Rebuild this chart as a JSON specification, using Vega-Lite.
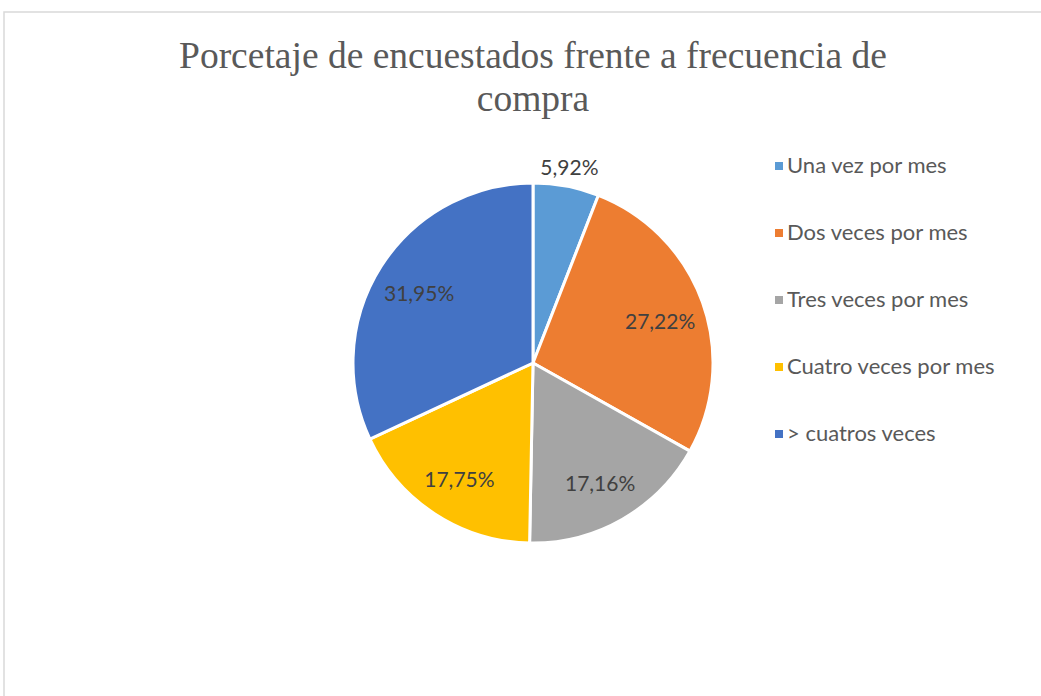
{
  "$schema": "https://vega.github.io/schema/vega-lite/v6.json",
  "width": 1058,
  "height": 702,
  "autosize": {"type": "none"},
  "padding": {"left": 4, "top": 12, "right": 0, "bottom": 0},
  "background": "white",
  "view": {"stroke": "#d9d9d9", "strokeWidth": 1.5},
  "title": {
    "text": ["Porcetaje de encuestados frente a frecuencia de", "compra"],
    "frame": "group",
    "anchor": "middle",
    "offset": -136,
    "baseline": "alphabetic",
    "font": "Liberation Serif",
    "fontSize": 37.5,
    "fontWeight": "normal",
    "color": "#595959",
    "lineHeight": 43
  },
  "data": {
    "values": [
      {"frecuencia": "Una vez por mes", "valor": 5.92, "etiqueta": "5,92%", "orden": 1},
      {"frecuencia": "Dos veces por mes", "valor": 27.22, "etiqueta": "27,22%", "orden": 2},
      {"frecuencia": "Tres veces por mes", "valor": 17.16, "etiqueta": "17,16%", "orden": 3},
      {"frecuencia": "Cuatro veces por mes", "valor": 17.75, "etiqueta": "17,75%", "orden": 4},
      {"frecuencia": "> cuatros veces", "valor": 31.95, "etiqueta": "31,95%", "orden": 5}
    ]
  },
  "encoding": {
    "theta": {"field": "valor", "type": "quantitative", "stack": true},
    "order": {"field": "orden", "type": "quantitative"}
  },
  "layer": [
    {
      "mark": {"type": "arc", "outerRadius": 180, "stroke": "white", "strokeWidth": 3},
      "encoding": {
        "color": {
          "field": "frecuencia",
          "type": "nominal",
          "sort": ["Una vez por mes", "Dos veces por mes", "Tres veces por mes", "Cuatro veces por mes", "> cuatros veces"],
          "scale": {
            "domain": ["Una vez por mes", "Dos veces por mes", "Tres veces por mes", "Cuatro veces por mes", "> cuatros veces"],
            "range": ["#5b9bd5", "#ed7d31", "#a5a5a5", "#ffc000", "#4472c4"]
          },
          "legend": {
            "title": null,
            "orient": "none",
            "legendX": 764,
            "legendY": 143,
            "padding": 0,
            "symbolType": "square",
            "symbolSize": 64,
            "symbolStrokeWidth": 0,
            "labelFont": "Lato",
            "labelFontSize": 22,
            "labelColor": "#595959",
            "labelOffset": -3,
            "rowPadding": 45,
            "labelLimit": 300
          }
        }
      }
    },
    {
      "mark": {"type": "text", "radius": 135, "dy": 5, "font": "Lato", "fontSize": 21, "color": "#404040"},
      "encoding": {
        "text": {"field": "etiqueta"},
        "opacity": {"condition": {"test": "datum.valor < 10", "value": 0}, "value": 1}
      }
    },
    {
      "mark": {"type": "text", "radius": 197, "font": "Lato", "fontSize": 21, "color": "#404040"},
      "encoding": {
        "text": {"field": "etiqueta"},
        "opacity": {"condition": {"test": "datum.valor < 10", "value": 1}, "value": 0}
      }
    }
  ]
}
